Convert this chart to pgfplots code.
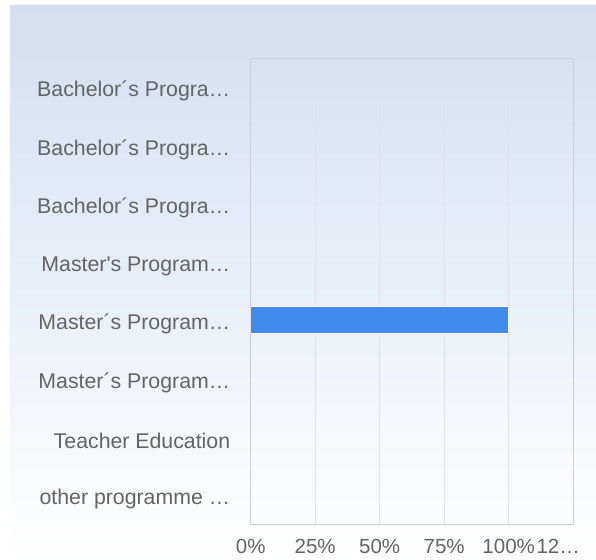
\documentclass[border=0pt]{standalone}
\usepackage{fontspec}
\setmainfont{Liberation Sans}
\usepackage{pgfplots}
\pgfplotsset{compat=1.18}
\definecolor{bgtop}{RGB}{211,223,240}
\definecolor{barblue}{RGB}{65,139,238}
\definecolor{lbl}{RGB}{100,100,100}
\definecolor{gridc}{RGB}{222,226,232}
\definecolor{framec}{RGB}{204,208,214}
\begin{document}
\begin{tikzpicture}
\path[use as bounding box] (0bp,0bp) rectangle (596bp,560bp);
\shade[top color=bgtop, bottom color=white] (10bp,0bp) rectangle (596bp,554bp);
\begin{axis}[
 at={(250.7bp,36bp)}, anchor=south west,
 scale only axis, width=322.5bp, height=466bp,
 xbar, xmin=0, xmax=125, ymin=0.5, ymax=8.5, y dir=reverse,
 xtick={0,25,50,75,100,125},
 xticklabels={0\%,25\%,50\%,75\%,100\%,{\kern-30bp 12…}},
 ytick={1,...,8},
 yticklabels={Bachelor´s Progra…,Bachelor´s Progra…,Bachelor´s Progra…,Master\textquotesingle s Program…,Master´s Program…,Master´s Program…,Teacher Education,other programme …},
 major tick length=0, tick style={draw=none},
 xmajorgrids, grid style={draw=gridc, line width=1bp},
 axis line style={draw=framec, line width=1bp},
 tick label style={text=lbl},
 xticklabel style={font=\fontsize{20.5bp}{24bp}\selectfont, yshift=-12bp},
 yticklabel style={font=\fontsize{21.3bp}{25bp}\selectfont, xshift=-17bp, yshift=-4bp},
 bar width=27bp,
]
\addplot[fill=barblue, draw=white, line width=1bp] coordinates {(100,5)};
\end{axis}
\end{tikzpicture}
\end{document}
